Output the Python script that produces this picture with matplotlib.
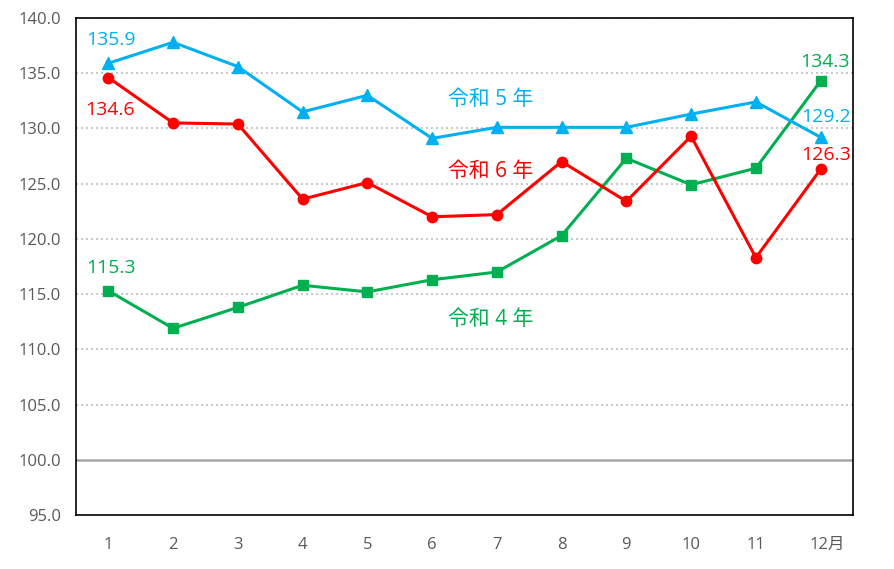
import matplotlib.pyplot as plt
import matplotlib.transforms as mtransforms

plt.rcParams['font.family'] = ['Open Sans', 'Noto Sans CJK JP', 'DejaVu Sans']

# 月別の指数
months = ['1', '2', '3', '4', '5', '6', '7', '8', '9', '10', '11', '12月']
r4 = [115.3, 111.9, 113.8, 115.8, 115.2, 116.3, 117.0, 120.3, 127.3, 124.9, 126.4, 134.3]
r5 = [135.9, 137.8, 135.6, 131.5, 133.0, 129.1, 130.1, 130.1, 130.1, 131.3, 132.4, 129.2]
r6 = [134.6, 130.5, 130.4, 123.6, 125.1, 122.0, 122.2, 127.0, 123.4, 129.3, 118.3, 126.3]
yticks = [95, 100, 105, 110, 115, 120, 125, 130, 135, 140]

c4 = '#00B050'
c5 = '#00B0F0'
c6 = '#FF0000'

fig = plt.figure(figsize=(8.95, 5.69), dpi=100)
ax = fig.add_axes([76 / 895, 54 / 569, 777 / 895, 497 / 569])

x = list(range(1, 13))

# グリッド
for v in yticks[2:]:
    ax.axhline(v, color='#BFBFBF', lw=1.2, ls=(0, (1.2, 1.8)), zorder=1)
ax.axhline(100, color='#A6A6A6', lw=1.8, zorder=1)

ax.plot(x, r4, color=c4, lw=2.2, marker='s', ms=7, zorder=3)
ax.plot(x, r6, color=c6, lw=2.2, marker='o', ms=7.5, zorder=4)
ax.plot(x, r5, color=c5, lw=2.2, marker='^', ms=9, zorder=5)

ax.set_xlim(0.5, 12.5)
ax.set_ylim(95, 140)
ax.set_yticks(yticks)
ax.set_yticklabels(['%.1f' % v for v in yticks])
ax.set_xticks(x)
ax.set_xticklabels(months)
ax.tick_params(length=0, labelsize=12, colors='#595959')
ax.tick_params(axis='x', pad=16)
ax.tick_params(axis='y', pad=11)
# 「12月」は数字を目盛りに合わせる
lab12 = ax.get_xticklabels()[-1]
lab12.set_transform(lab12.get_transform() +
                    mtransforms.ScaledTranslation(7 / 100, 0, fig.dpi_scale_trans))
for s in ax.spines.values():
    s.set_color('black')
    s.set_linewidth(1.2)

fs = 14


def label(xi, yi, dx, dy, color):
    ax.annotate('%.1f' % yi, (xi, yi), xytext=(dx, dy), textcoords='offset points',
                ha='center', va='center', color=color, fontsize=fs)


# 値ラベル
label(1, r5[0], 2, 16.5, c5)
label(1, r6[0], 1, -23, c6)
label(1, r4[0], 2, 16.5, c4)
label(12, r4[11], 3, 13.7, c4)
label(12, r5[11], 4, 14.4, c5)
label(12, r6[11], 4, 10, c6)

# 系列名
ax.text(6.9, 132.6, '令和 5 年', color=c5, fontsize=15, ha='center', va='center')
ax.text(6.9, 126.1, '令和 6 年', color=c6, fontsize=15, ha='center', va='center')
ax.text(6.9, 112.7, '令和 4 年', color=c4, fontsize=15, ha='center', va='center')

fig.savefig('out.png', dpi=100)
